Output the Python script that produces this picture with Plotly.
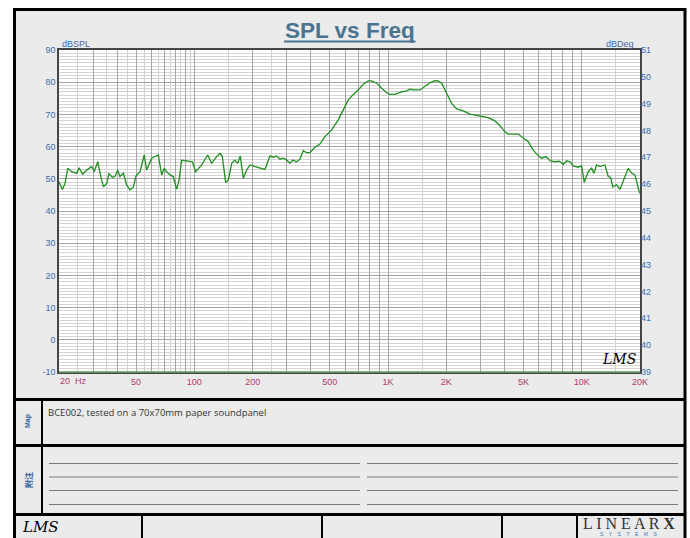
import math
import plotly.graph_objects as go

# ---------------- data ----------------
freq_hz = [20, 20.8, 21.5, 22.2, 23.3, 24.7, 25.4, 26.5, 27.8, 29.5, 30.4, 31.7, 32.6, 33.9,
           35.3, 36.2, 37.7, 38.9, 40.2, 41.3, 43.0, 44.7, 46.5, 48.4, 50.0, 52.4, 55.1, 56.7,
           60.2, 62.6, 65.1, 67.8, 69.9, 71.9, 74.8, 77.8, 81.0, 83.3, 86.0, 91.3, 97.6, 101.6,
           109.1, 117.1, 122.8, 130.3, 135.6, 139.4, 145.1, 149.7, 155.9, 162.1, 167.4, 172.6,
           178.9, 186.2, 193.7, 205.6, 218.1, 231.5, 245.7, 255.5, 266.1, 276.7, 287.8, 299.7,
           311.7, 321.9, 337.5, 350.9, 364.9, 380.0, 395.2, 419.4, 445.0, 472.3, 511.8, 553.4,
           587.3, 623.2, 661.3, 702.0, 745.0, 790.6, 823.3, 873.7, 927.3, 984.1, 1023, 1086,
           1176, 1248, 1298, 1350, 1461, 1550, 1646, 1747, 1817, 1892, 2007, 2131, 2262, 2446,
           2649, 2983, 3291, 3564, 3783, 4015, 4176, 4701, 4988, 5295, 5619, 5964, 6212, 6539,
           6857, 7276, 7657, 8031, 8363, 8698, 9046, 9600, 10000, 10305, 10806, 11252, 11564,
           11940, 12418, 13183, 13710, 14107, 14449, 15152, 15758, 16391, 17394, 18109, 18836,
           19812, 20000]
spl_db = [49.1, 46.7, 48.6, 53.3, 52.2, 51.7, 53.4, 51.4, 52.7, 53.8, 52.2, 55.3, 51.7, 47.5,
          48.6, 51.7, 50.5, 50.7, 52.7, 50.7, 51.7, 48.1, 46.5, 47.5, 50.9, 52.2, 57.4, 52.7,
          56.4, 56.9, 57.4, 51.2, 53.3, 52.2, 51.2, 50.7, 46.7, 49.6, 55.8, 55.6, 55.3, 52.2,
          54.3, 57.4, 54.8, 56.9, 57.9, 56.9, 48.8, 49.6, 54.8, 55.8, 54.8, 57.1, 50.2, 52.7,
          54.3, 53.8, 53.3, 52.9, 57.1, 56.7, 57.1, 56.1, 56.4, 55.8, 54.8, 55.8, 55.3, 56.1,
          58.7, 58.1, 58.1, 59.8, 60.8, 63.1, 65.2, 68.3, 71.4, 74.5, 76.2, 77.6, 79.4, 80.4,
          80.4, 79.7, 78.1, 76.7, 76.2, 76.2, 77.0, 77.3, 77.8, 77.6, 77.6, 78.6, 79.8, 80.5,
          80.4, 79.7, 76.6, 73.4, 71.7, 71.1, 70.1, 69.6, 69.0, 68.0, 66.5, 64.6, 63.9, 63.9,
          62.8, 61.5, 58.9, 57.2, 56.4, 56.9, 55.6, 55.3, 55.5, 54.5, 55.6, 55.3, 54.0, 53.6,
          54.0, 48.9, 52.2, 53.3, 51.7, 54.3, 53.8, 54.3, 50.7, 50.4, 47.5, 48.1, 46.7, 49.6,
          53.3, 51.7, 51.2, 46.0, 45.5]

spl_ticks = [-10, 0, 10, 20, 30, 40, 50, 60, 70, 80, 90]
deg_ticks = [39, 40, 41, 42, 43, 44, 45, 46, 47, 48, 49, 50, 51]
x_major = [20, 30, 40, 50, 60, 70, 80, 90, 100, 200, 300, 400, 500, 600, 700, 800, 900,
           1000, 2000, 3000, 4000, 5000, 6000, 7000, 8000, 9000, 10000, 20000]
x_minor = [25, 35, 45, 55, 65, 75, 85, 95, 150, 250, 1500, 15000]
x_labels = {50: "50", 100: "100", 200: "200", 500: "500", 1000: "1K", 2000: "2K",
            5000: "5K", 10000: "10K", 20000: "20K"}

title_text = "SPL vs Freq"
note_text = "BCE002, tested on a 70x70mm paper soundpanel"

# ---------------- geometry helpers ----------------
W, H = 690, 538
PL, PR, PT, PB = 59, 640, 50, 372


def px(x):
    return (x - PL) / (PR - PL)


def py(y):
    return (PB - y) / (PB - PT)


TITLE_C = "#4a7490"
BLUE = "#3c6db0"
RED = "#b03a68"

fig = go.Figure()
fig.add_trace(go.Scatter(x=freq_hz, y=spl_db, mode="lines",
                         line=dict(color="#1f8f1f", width=1.3),
                         hoverinfo="skip", showlegend=False))
fig.add_trace(go.Scatter(x=[], y=[], yaxis="y2", showlegend=False, hoverinfo="skip"))

shapes = []
shapes.append(dict(type="rect", xref="paper", yref="paper", layer="below",
                   x0=px(14.5), x1=px(685), y0=py(548), y1=py(9.5),
                   fillcolor="#ebebeb", line=dict(color="black", width=3)))
shapes.append(dict(type="rect", xref="paper", yref="paper", layer="below",
                   x0=0, x1=1, y0=0, y1=1, fillcolor="white", line=dict(width=0)))
shapes.append(dict(type="line", xref="paper", yref="paper", layer="above",
                   x0=0, x1=1, y0=0, y1=0, line=dict(color="#6aa06a", width=1.5)))
shapes.append(dict(type="line", xref="paper", yref="paper", layer="above",
                   x0=px(284), x1=px(415.5), y0=py(41.5), y1=py(41.5),
                   line=dict(color=TITLE_C, width=2)))
for yy in (399.5, 445.5, 514.5):
    shapes.append(dict(type="line", xref="paper", yref="paper", layer="above",
                       x0=px(14.5), x1=px(685), y0=py(yy), y1=py(yy),
                       line=dict(color="black", width=3)))
shapes.append(dict(type="line", xref="paper", yref="paper", layer="above",
                   x0=px(42), x1=px(42), y0=py(399.5), y1=py(514.5),
                   line=dict(color="black", width=2)))
for xx in (142, 322, 502, 577):
    shapes.append(dict(type="line", xref="paper", yref="paper", layer="above",
                       x0=px(xx), x1=px(xx), y0=py(514.5), y1=py(548),
                       line=dict(color="black", width=2)))
for yy in (463.5, 477, 490.5, 504.5):
    shapes.append(dict(type="line", xref="paper", yref="paper", layer="above",
                       x0=px(49), x1=px(360), y0=py(yy), y1=py(yy),
                       line=dict(color="#7a7a7a", width=1)))
    shapes.append(dict(type="line", xref="paper", yref="paper", layer="above",
                       x0=px(367), x1=px(678), y0=py(yy), y1=py(yy),
                       line=dict(color="#7a7a7a", width=1)))

ann = []


def A(text, x, y, size, color, xanchor="center", yanchor="middle", family="Liberation Sans",
      angle=0):
    ann.append(dict(text=text, xref="paper", yref="paper", x=px(x), y=py(y),
                    xanchor=xanchor, yanchor=yanchor, showarrow=False, textangle=angle,
                    font=dict(size=size, color=color, family=family)))


A("<b>" + title_text + "</b>", 350, 30, 22.5, TITLE_C)
A("dBSPL", 60, 44, 9, "#4a66a8", xanchor="left")
A("dBDeg", 636, 44, 9, "#4a66a8", xanchor="right")
A("20  Hz", 58, 380.5, 9, RED, xanchor="left")
A("<i>LMS</i>", 619, 359, 14, "black", family="DejaVu Serif")
A(note_text, 46, 412.5, 9.5, "#333333", xanchor="left", family="Open Sans")
A("<b>Map</b>", 28, 421, 7, "#2f5fa0", angle=-90)
A("<b>附注</b>", 28, 480, 8, "#2f5fa0", family="Noto Sans CJK SC", angle=-90)
A("<i>LMS</i>", 40, 526.5, 15, "black", family="DejaVu Serif")
A("L I N E A R <b>X</b>", 629, 523.5, 16, "#333333", family="Liberation Serif")
A("S    Y    S    T    E    M    S", 629, 534, 5, "#3c7ab8")

fig.update_layout(
    width=W, height=H,
    margin=dict(l=PL, r=W - PR, t=PT, b=H - PB, pad=0),
    paper_bgcolor="white", plot_bgcolor="rgba(0,0,0,0)",
    showlegend=False, hovermode=False,
    shapes=shapes, annotations=ann,
    xaxis=dict(type="log", range=[math.log10(20), math.log10(20000)],
               tickmode="array", tickvals=x_major,
               ticktext=[x_labels.get(v, "") for v in x_major],
               tickfont=dict(size=9, color=RED, family="Liberation Sans"),
               ticks="", showgrid=True, gridcolor="#a6a6a6", gridwidth=1,
               minor=dict(tickmode="array", tickvals=x_minor, showgrid=True,
                          gridcolor="#cfcfcf", gridwidth=1, ticks=""),
               showline=True, linecolor="#454545", linewidth=1.5, mirror=True,
               zeroline=False, fixedrange=True),
    yaxis=dict(range=[-10, 90], tickmode="array", tickvals=spl_ticks,
               ticktext=[str(v) for v in spl_ticks],
               tickfont=dict(size=9, color=BLUE, family="Liberation Sans"),
               ticks="", showgrid=True, gridcolor="#a4a4a4", gridwidth=1,
               minor=dict(dtick=1, showgrid=True, gridcolor="#d4d4d4", gridwidth=1, ticks=""),
               showline=True, linecolor="#454545", linewidth=1.5, mirror=True,
               zeroline=False, fixedrange=True),
    yaxis2=dict(range=[39, 51], overlaying="y", side="right", anchor="x",
                tickmode="array", tickvals=deg_ticks,
                ticktext=[str(v) for v in deg_ticks],
                tickfont=dict(size=9, color=BLUE, family="Liberation Sans"),
                ticks="", showgrid=False, zeroline=False, showline=False, fixedrange=True),
)

fig.write_html("out.html", config={"displayModeBar": False},
               post_script="document.body.style.margin='0';document.body.style.overflow='hidden';")
